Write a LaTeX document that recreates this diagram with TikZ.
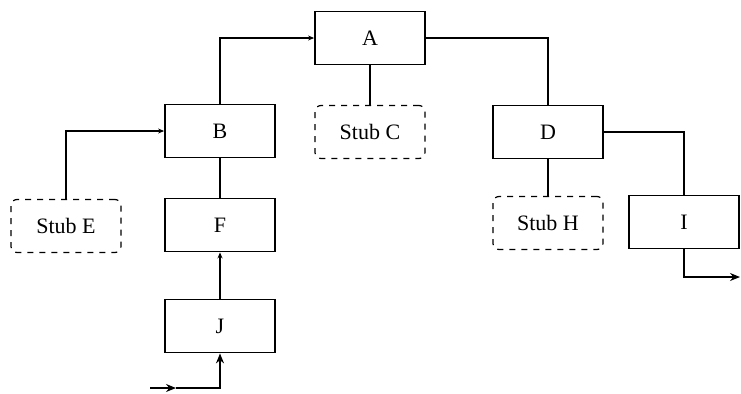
\documentclass[tikz,border=0pt]{standalone}
\usepackage{fontspec}
\setmainfont{Liberation Serif}
\usetikzlibrary{arrows.meta}

\tikzset{
  module/.style={draw, line width=0.9pt, minimum width=55pt, minimum height=26.5pt, inner sep=0pt, font=\fontsize{11}{13}\selectfont},
  stub/.style={module, dashed, line width=0.6pt, rounded corners=3pt},
  link/.style={line width=0.6pt},
  tip/.style={link, -{Stealth[length=3pt,width=2.5pt]}},
  flow/.style={link, -{Stealth[length=5pt,width=4pt]}}
}

\begin{document}
\begin{tikzpicture}[x=0.5pt, y=-0.5pt]
\useasboundingbox (0,0) rectangle (741,393);

% modules
\node[module] (A) at (370,38) {A};
\node[module] (B) at (220,131) {B};
\node[stub] (C) at (370,132) {Stub C};
\node[module] (D) at (548,132) {D};
\node[stub] (E) at (66,226) {Stub E};
\node[module] (F) at (220,225) {F};
\node[stub] (H) at (548,223) {Stub H};
\node[module] (I) at (684,222) {I};
\node[module] (J) at (220,326) {J};

% free ends
\coordinate (in) at (150,388);
\coordinate (inhead) at (176,388);
\coordinate (out) at (740,277);

% calls
\draw[tip] (B.north) |- (A.west);
\draw[link] (A.east) -| (D.north);
\draw[link] (A.south) -- (C.north);
\draw[tip] (E.north) |- (B.west);
\draw[link] (B.south) -- (F.north);
\draw[tip] (J.north) -- (F.south);
\draw[link] (D.south) -- (H.north);
\draw[link] (D.east) -| (I.north);

% input and output
\draw[flow] (in) -- (inhead);
\draw[flow] (inhead) -| (J.south);
\draw[flow] (I.south) |- (out);
\end{tikzpicture}
\end{document}
